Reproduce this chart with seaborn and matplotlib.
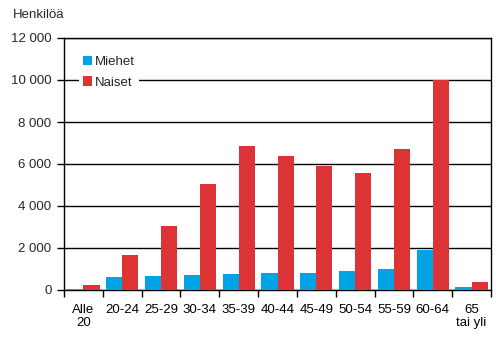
import matplotlib
matplotlib.use("Agg")
import matplotlib.pyplot as plt
import matplotlib.ticker as mticker
import seaborn as sns
import pandas as pd

AGE_GROUPS = ['Alle\n20', '20-24', '25-29', '30-34', '35-39', '40-44',
              '45-49', '50-54', '55-59', '60-64', '65\ntai yli']
MIEHET = [50, 620, 670, 715, 760, 825, 825, 905, 1000, 1905, 145]
NAISET = [240, 1680, 3050, 5050, 6860, 6380, 5900, 5570, 6710, 9990, 395]
SERIES = ['Miehet', 'Naiset']
COLORS = ['#00A4E4', '#DC3336']

df = pd.DataFrame({
    'ika': AGE_GROUPS * 2,
    'sarja': [SERIES[0]] * len(AGE_GROUPS) + [SERIES[1]] * len(AGE_GROUPS),
    'henkiloa': MIEHET + NAISET,
})

sns.set_style('white')
plt.rcParams['font.family'] = ['Liberation Sans', 'DejaVu Sans']
plt.rcParams['font.size'] = 9.5

fig = plt.figure(figsize=(4.96, 3.61), dpi=100)
ax = fig.add_axes([64 / 496, 1 - 290 / 361, 427 / 496, 252 / 361])

sns.barplot(data=df, x='ika', y='henkiloa', hue='sarja', palette=COLORS,
            width=0.83, saturation=1, linewidth=0, edgecolor='none', ax=ax, zorder=3)

ax.set_ylim(0, 12000)
ax.set_xlim(-0.5, len(AGE_GROUPS) - 0.5)
ax.yaxis.set_major_locator(mticker.MultipleLocator(2000))
ax.yaxis.set_major_formatter(mticker.FuncFormatter(lambda v, p: f'{int(v):,}'.replace(',', ' ')))
ax.grid(axis='y', color='black', linewidth=1, zorder=0)
ax.set_axisbelow(True)

ax.set_xticks(range(len(AGE_GROUPS)))
ax.set_xticklabels(AGE_GROUPS, linespacing=1.1)
ax.set_xticks([i - 0.5 for i in range(len(AGE_GROUPS) + 1)], minor=True)
ax.tick_params(axis='x', which='major', length=0, pad=10, colors='black')
ax.tick_params(axis='x', which='minor', length=5, width=1, direction='out', color='black', bottom=True)
ax.tick_params(axis='y', length=5, width=1, direction='out', color='black', left=True, pad=4)
for s in ax.spines.values():
    s.set_color('black')
    s.set_linewidth(1)

ax.set_xlabel('')
ax.set_ylabel('')
fig.text(13 / 496, 1 - 15 / 361, 'Henkilöä', ha='left', va='center', fontsize=9.5)

leg = ax.legend(loc='upper left', bbox_to_anchor=(0.02, 0.97), frameon=True,
                edgecolor='none', facecolor='white', framealpha=1,
                handlelength=0.7, handleheight=0.7, handletextpad=0.2,
                labelspacing=0.6, borderpad=0.3, fancybox=False)
leg.set_zorder(5)

fig.savefig('out.png', dpi=100)
